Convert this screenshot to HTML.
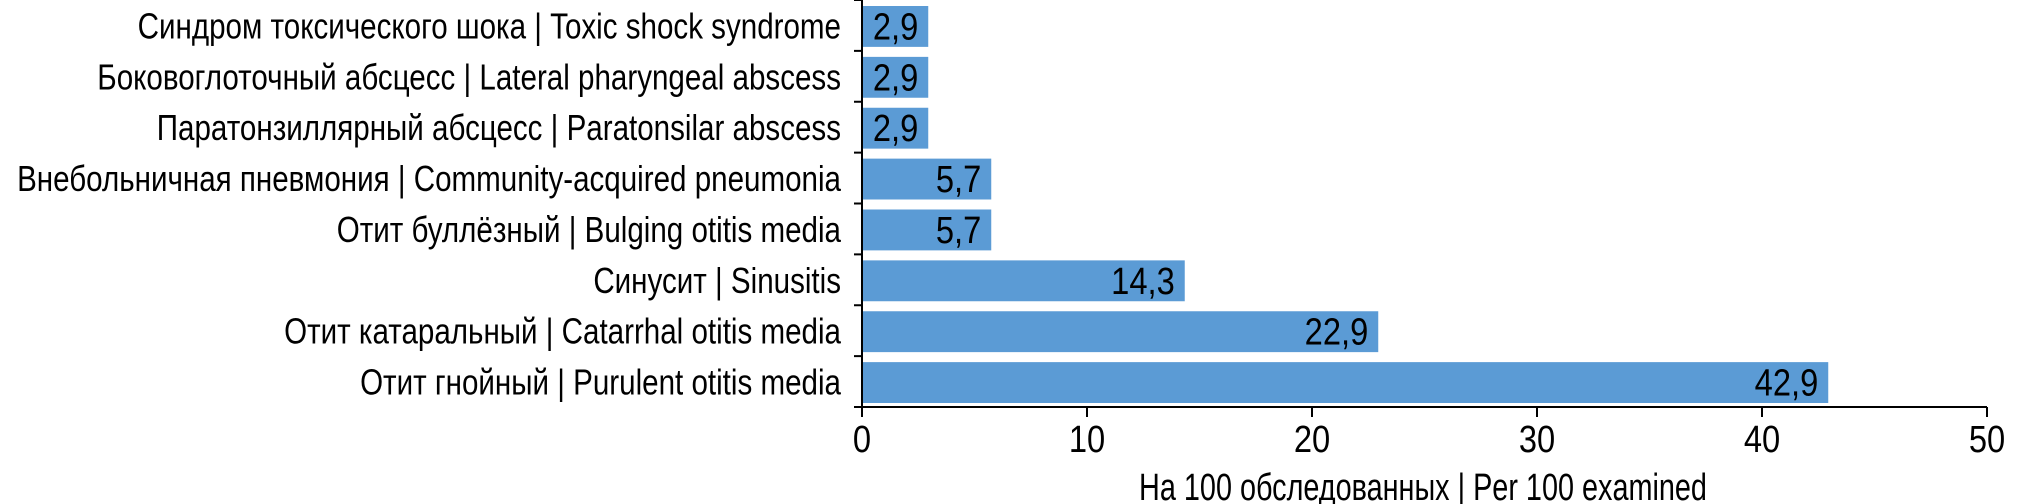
<!DOCTYPE html>
<html><head><meta charset="utf-8"><style>
html,body{margin:0;padding:0;background:#fff;}
svg{display:block;font-family:"Liberation Sans Narrow","Liberation Sans",sans-serif;}
</style></head><body>
<svg id="chart" width="2020" height="504"></svg>
<script>
const categories = ["Синдром токсического шока | Toxic shock syndrome","Боковоглоточный абсцесс | Lateral pharyngeal abscess","Паратонзиллярный абсцесс | Paratonsilar abscess","Внебольничная пневмония | Community-acquired pneumonia","Отит буллёзный | Bulging otitis media","Синусит | Sinusitis","Отит катаральный | Catarrhal otitis media","Отит гнойный | Purulent otitis media"];
const values = [2.9,2.9,2.9,5.7,5.7,14.3,22.9,42.9];
const valueLabels = ["2,9","2,9","2,9","5,7","5,7","14,3","22,9","42,9"];
const xTicks = [0,10,20,30,40,50];
const xTitle = "На 100 обследованных | Per 100 examined";

const NS="http://www.w3.org/2000/svg";
const svg=document.getElementById('chart');
const X0=862,X1=1987,Y0=0,Y1=407,XMAX=50;
const band=(Y1-Y0)/categories.length;
const x=v=>X0+(X1-X0)*v/XMAX;
const yb=i=>Y0+band*i;
function mk(t,a){const e=document.createElementNS(NS,t);for(const k in a)e.setAttribute(k,a[k]);svg.appendChild(e);return e;}
function fitText(el,w){const n=el.getComputedTextLength();return n>0?w/n:1;}
const NUMF=0.86;

const cats=[];
categories.forEach((c,i)=>{
  const top=yb(i)+6, h=band-10;
  const r=mk('rect',{x:x(0)+1,y:top,width:x(values[i])-x(0),height:h,fill:'#5b9bd5'});
  
  
  const vt=mk('text',{'text-anchor':'end','font-size':38,fill:'#000',transform:`translate(${x(values[i])-9},${top+h/2+13}) scale(${NUMF},1)`});
  vt.textContent=valueLabels[i];
  
  
  const ct=mk('text',{x:0,y:0,'text-anchor':'end','font-size':36,fill:'#000'});
  ct.textContent=c;
  
  
  ct._y=top+h/2+12;
  cats.push(ct);
});
let maxW=0;
cats.forEach(l=>{maxW=Math.max(maxW,l.getComputedTextLength());});
const f=maxW>0?824/maxW:1;
cats.forEach(l=>{l.setAttribute('transform',`translate(841,${l._y}) scale(${f},1)`);});

const ya=mk('line',{x1:X0,y1:Y0,x2:X0,y2:Y1,stroke:'#000','stroke-width':2});


for(let i=0;i<=categories.length;i++){
  const t=mk('line',{x1:X0-8,y1:yb(i),x2:X0,y2:yb(i),stroke:'#000','stroke-width':2});
  
  
}
const xa=mk('line',{x1:X0,y1:Y1,x2:X1,y2:Y1,stroke:'#000','stroke-width':2});


xTicks.forEach(v=>{
  const t=mk('line',{x1:x(v),y1:Y1,x2:x(v),y2:Y1+10,stroke:'#000','stroke-width':2});
  
  
  const tl=mk('text',{transform:`translate(${x(v)},452) scale(${NUMF},1)`,'text-anchor':'middle','font-size':38,fill:'#000'});
  tl.textContent=String(v);
  
  
});
const tt=mk('text',{'text-anchor':'middle','font-size':38,fill:'#000'});
tt.textContent=xTitle;


const tf=fitText(tt,568);
tt.setAttribute('transform',`translate(1423,500) scale(${tf},1)`);
</script>
</body></html>
